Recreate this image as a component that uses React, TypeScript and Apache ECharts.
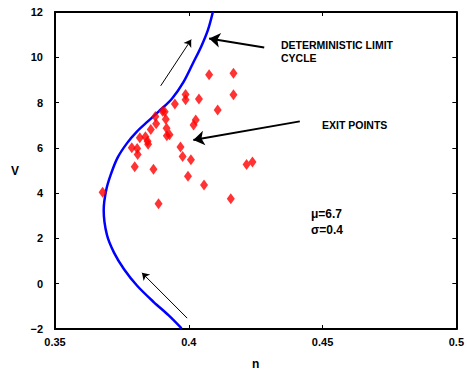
import React, { useEffect, useRef } from "react";
import * as echarts from "echarts";

const xTicks = [0.35, 0.4, 0.45, 0.5];
const yTicks = [-2, 0, 2, 4, 6, 8, 10, 12];

// deterministic limit cycle (n, V)
const limitCycle: [number, number][] = [
  [0.3973, -1.97], [0.3924, -1.39], [0.3869, -0.81], [0.3807, -0.09],
  [0.3758, 0.64], [0.3721, 1.36], [0.3694, 2.16], [0.3682, 3.25],
  [0.3691, 4.12], [0.3709, 4.84], [0.3734, 5.57], [0.377, 6.22],
  [0.3806, 6.72], [0.3847, 7.17], [0.3888, 7.61], [0.3937, 8.17],
  [0.398, 8.9], [0.4017, 9.77], [0.4047, 10.49], [0.4072, 11.22],
  [0.409, 12.0],
];

// exit points (n, V)
const exitPoints: [number, number][] = [
  [0.4076, 9.23], [0.4167, 9.3], [0.3988, 8.36], [0.3988, 8.13],
  [0.4167, 8.35], [0.4038, 8.16], [0.3948, 7.94], [0.4108, 7.67],
  [0.3902, 7.62], [0.391, 7.6], [0.3875, 7.39], [0.3914, 7.26],
  [0.3878, 7.06], [0.4026, 7.23], [0.4018, 7.01], [0.3858, 6.81],
  [0.3917, 6.87], [0.3918, 6.54], [0.3928, 6.58], [0.3817, 6.45],
  [0.3838, 6.49], [0.3846, 6.29], [0.3848, 6.16], [0.3787, 6.0],
  [0.3807, 5.97], [0.3809, 5.71], [0.3969, 6.04], [0.3977, 5.62],
  [0.4008, 5.48], [0.3798, 5.17], [0.3868, 5.06], [0.3997, 4.75],
  [0.4057, 4.36], [0.3678, 4.04], [0.3887, 3.53], [0.4157, 3.75],
  [0.4216, 5.27], [0.4238, 5.38],
];

// annotation arrows: [from, to] in data coordinates
const thinArrows: [[number, number], [number, number]][] = [
  [[0.3895, 8.74], [0.4009, 10.78]],
  [[0.3994, -1.52], [0.3825, 0.48]],
];
const thickArrows: [[number, number], [number, number]][] = [
  [[0.4282, 10.43], [0.4076, 10.83]],
  [[0.4415, 7.17], [0.4017, 6.35]],
];

const FONT = "'Liberation Sans', Arial, Helvetica, sans-serif";

const fmtNum = (v: number) => {
  const s = String(+v.toFixed(2));
  return s.replace("-", "\u2212");
};

export default function App() {
  const ref = useRef<HTMLDivElement>(null);
  useEffect(() => {
    if (!ref.current) return;
    const chart = echarts.init(ref.current, undefined, { renderer: "svg" });
    const axisCommon = {
      type: "value" as const,
      axisLine: { show: true, onZero: false, lineStyle: { color: "#000", width: 2 } },
      axisTick: { show: true, inside: true, length: 4, lineStyle: { color: "#000", width: 1 } },
      splitLine: { show: false },
    };
    const labelStyle = {
      color: "#000",
      fontFamily: FONT,
      fontWeight: "bold" as const,
      fontSize: 11,
    };
    chart.setOption({
      animation: false,
      backgroundColor: "#fff",
      grid: { left: 55, right: 6, top: 12, bottom: 41, containLabel: false },
      xAxis: [
        {
          ...axisCommon,
          min: xTicks[0],
          max: xTicks[xTicks.length - 1],
          interval: 0.05,
          name: "n",
          nameLocation: "middle",
          nameGap: 29,
          nameTextStyle: { ...labelStyle, fontSize: 12 },
          axisLabel: { ...labelStyle, margin: 7, formatter: fmtNum },
        },
        {
          ...axisCommon,
          position: "top",
          min: xTicks[0],
          max: xTicks[xTicks.length - 1],
          interval: 0.05,
          axisLabel: { show: false },
        },
      ],
      yAxis: [
        {
          ...axisCommon,
          min: yTicks[0],
          max: yTicks[yTicks.length - 1],
          interval: 2,
          name: "V",
          nameLocation: "middle",
          nameGap: 36,
          nameRotate: 0,
          nameTextStyle: { ...labelStyle, fontSize: 12 },
          axisLabel: { ...labelStyle, margin: 12, formatter: fmtNum },
        },
        {
          ...axisCommon,
          position: "right",
          min: yTicks[0],
          max: yTicks[yTicks.length - 1],
          interval: 2,
          axisLabel: { show: false },
        },
      ],
      series: [
        {
          type: "line",
          data: limitCycle,
          smooth: 0.3,
          showSymbol: false,
          symbol: "none",
          lineStyle: { color: "#0000ff", width: 2.5 },
          z: 2,
        },
        {
          type: "scatter",
          data: exitPoints,
          symbol: "diamond",
          symbolSize: [8, 11],
          itemStyle: { color: "#ff0000" },
          z: 3,
        },
        {
          type: "lines",
          coordinateSystem: "cartesian2d",
          polyline: false,
          silent: true,
          symbol: ["none", "arrow"],
          symbolSize: 7,
          lineStyle: { color: "#000", width: 1, opacity: 1, curveness: 0 },
          data: thinArrows.map(([a, b]) => ({ coords: [a, b] })),
          z: 4,
        },
        {
          type: "lines",
          coordinateSystem: "cartesian2d",
          polyline: false,
          silent: true,
          symbol: ["none", "arrow"],
          symbolSize: 11,
          lineStyle: { color: "#000", width: 2, opacity: 1, curveness: 0 },
          data: thickArrows.map(([a, b]) => ({ coords: [a, b] })),
          z: 4,
        },
      ],
      graphic: [
        {
          type: "text",
          left: 281,
          top: 38,
          style: {
            text: "DETERMINISTIC LIMIT\nCYCLE",
            font: `bold 10.5px ${FONT}`,
            lineHeight: 13,
            fill: "#000",
          },
        },
        {
          type: "text",
          left: 322,
          top: 119,
          style: {
            text: "EXIT POINTS",
            font: `bold 10.5px ${FONT}`,
            fill: "#000",
          },
        },
        {
          type: "text",
          left: 311,
          top: 206,
          style: {
            text: "\u03bc=6.7\n\u03c3=0.4",
            font: `bold 12px ${FONT}`,
            lineHeight: 16,
            fill: "#000",
          },
        },
      ],
    });
    return () => chart.dispose();
  }, []);
  return (
    <div
      ref={ref}
      style={{ position: "fixed", left: 0, top: 0, width: 467, height: 375 }}
    />
  );
}
